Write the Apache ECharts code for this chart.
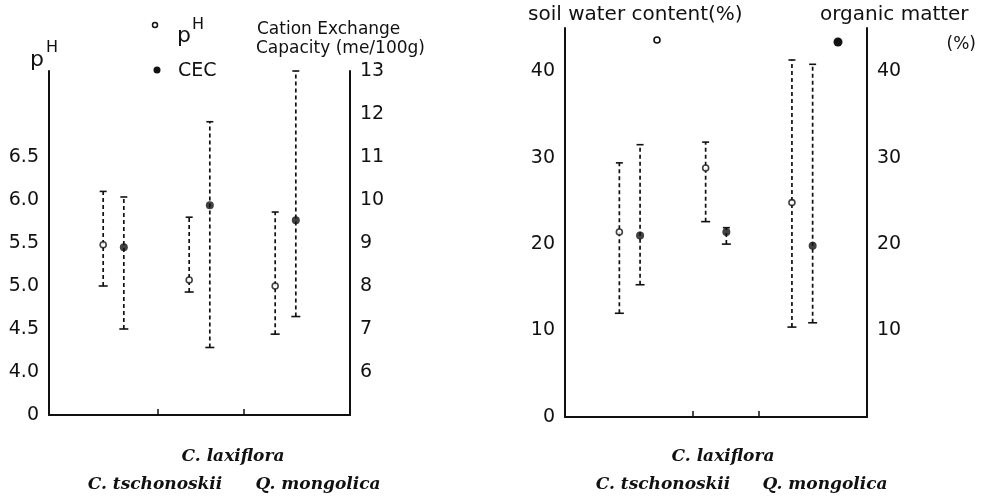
<!DOCTYPE html>
<html>
<head>
<meta charset="utf-8">
<script src="https://cdn.jsdelivr.net/npm/echarts@6/dist/echarts.min.js"></script>
<style>
html, body { margin: 0; padding: 0; background: #fff; }
#chart { width: 987px; height: 498px; }
</style>
</head>
<body>
<div id="chart"></div>
<script>
// species groups, left to right
const categories = ["C. tschonoskii", "C. laxiflora", "Q. mongolica"];

// left panel: pH (left axis) and CEC (right axis)
const phMean = [5.48, 5.07, 5.0];
const phHigh = [6.1, 5.8, 5.86];
const phLow = [5.0, 4.93, 4.44];
const cecMean = [8.9, 9.88, 9.53];
const cecHigh = [10.07, 11.82, 13.0];
const cecLow = [7.0, 6.57, 7.29];

// right panel: soil water content (left axis) and organic matter (right axis)
const waterMean = [21.4, 28.8, 24.8];
const waterHigh = [29.4, 31.8, 41.3];
const waterLow = [12.0, 22.6, 10.4];
const omMean = [21.0, 21.4, 19.8];
const omHigh = [31.5, 21.9, 40.8];
const omLow = [15.3, 20.0, 10.9];

// tick labels
const phTicks = ["0", "4.0", "4.5", "5.0", "5.5", "6.0", "6.5"];
const cecTicks = ["6", "7", "8", "9", "10", "11", "12", "13"];
const pctTicks = ["0", "10", "20", "30", "40"];

const chart = echarts.init(document.getElementById("chart"));
const tickFont = { fontFamily: "DejaVu Sans", fontSize: 19, color: "#111" };
const offset = 0.12;

function rows(mean, high, low, shift) {
	return mean.map((m, i) => [i + shift, low[i], high[i], m]);
}

function errorBars(xi, yi, data) {
	return {
		type: "custom",
		xAxisIndex: xi,
		yAxisIndex: yi,
		data: data,
		silent: true,
		renderItem: (params, api) => {
			const lo = api.coord([api.value(0), api.value(1)]);
			const hi = api.coord([api.value(0), api.value(2)]);
			const st = { stroke: "#111", lineWidth: 1.6 };
			return {
				type: "group",
				children: [
					{ type: "line", shape: { x1: lo[0], y1: lo[1], x2: hi[0], y2: hi[1] },
						style: { stroke: "#111", lineWidth: 1.7, lineDash: [4, 3] } },
					{ type: "line", shape: { x1: hi[0] - 3.5, y1: hi[1], x2: hi[0] + 3.5, y2: hi[1] }, style: st },
					{ type: "line", shape: { x1: lo[0] - 4.5, y1: lo[1], x2: lo[0] + 4.5, y2: lo[1] }, style: st }
				]
			};
		}
	};
}

function means(xi, yi, data, filled) {
	return {
		type: "scatter",
		xAxisIndex: xi,
		yAxisIndex: yi,
		z: 5,
		silent: true,
		symbol: "circle",
		symbolSize: filled ? 8 : 6,
		itemStyle: filled
			? { color: "#111" }
			: { color: "#fff", borderColor: "#111", borderWidth: 1.6 },
		data: data.map(d => [d[0], d[3]])
	};
}

function xAxis(gi, ticks) {
	return {
		type: "value",
		gridIndex: gi,
		min: -0.75,
		max: 2.75,
		axisLine: { show: true, onZero: false, lineStyle: { color: "#111", width: 2 } },
		axisTick: { show: true, inside: true, length: 6, customValues: ticks, lineStyle: { color: "#111", width: 1.5 } },
		axisLabel: { show: false },
		splitLine: { show: false }
	};
}

// map tick value -> label text
function phLabel(v) {
	if (Math.abs(v - 3.5) < 1e-6) return phTicks[0];
	const s = v.toFixed(1);
	return phTicks.indexOf(s) > 0 ? s : "";
}
function cecLabel(v) {
	const s = String(Math.round(v));
	return cecTicks.indexOf(s) >= 0 ? s : "";
}
function pctLabelLeft(v) {
	const s = String(Math.round(v));
	return pctTicks.indexOf(s) >= 0 ? s : "";
}
function pctLabelRight(v) {
	const s = String(Math.round(v));
	return s !== "0" && pctTicks.indexOf(s) >= 0 ? s : "";
}

function yAx(gi, pos, min, max, interval, fmt) {
	return {
		type: "value",
		gridIndex: gi,
		position: pos,
		min: min,
		max: max,
		interval: interval,
		axisLine: { show: true, onZero: false, lineStyle: { color: "#111", width: 2 } },
		axisTick: { show: false },
		splitLine: { show: false },
		axisLabel: Object.assign({}, tickFont, { margin: 10, formatter: fmt })
	};
}

const phData = rows(phMean, phHigh, phLow, -offset);
const cecData = rows(cecMean, cecHigh, cecLow, offset);
const waterData = rows(waterMean, waterHigh, waterLow, -offset);
const omData = rows(omMean, omHigh, omLow, offset);

const speciesFont = { fontFamily: "DejaVu Serif", fontStyle: "italic", fontWeight: "bold", fontSize: 17, fill: "#111" };
const leftFont = { fontFamily: "DejaVu Sans", fontSize: 17, fill: "#111" };
const rightFont = { fontFamily: "DejaVu Sans", fontSize: 20, fill: "#111" };

function speciesLabels(cx) {
	return [
		{ type: "text", x: cx[1], y: 457, style: Object.assign({ text: categories[1], align: "center", verticalAlign: "middle" }, speciesFont) },
		{ type: "text", x: cx[0], y: 485, style: Object.assign({ text: categories[0], align: "center", verticalAlign: "middle" }, speciesFont) },
		{ type: "text", x: cx[2], y: 485, style: Object.assign({ text: categories[2], align: "center", verticalAlign: "middle" }, speciesFont) }
	];
}

const option = {
	animation: false,
	backgroundColor: "#fff",
	grid: [
		{ left: 49, top: 71, width: 301, height: 344 },
		{ left: 565, top: 28, width: 302, height: 389 }
	],
	xAxis: [xAxis(0, [0.51, 1.52]), xAxis(1, [0.73, 1.49])],
	yAxis: [
		yAx(0, "left", 3.5, 7.5, 0.5, phLabel),
		yAx(0, "right", 5, 13, 1, cecLabel),
		yAx(1, "left", 0, 45, 5, pctLabelLeft),
		yAx(1, "right", 0, 45, 5, pctLabelRight)
	],
	series: [
		errorBars(0, 0, phData),
		means(0, 0, phData, false),
		errorBars(0, 1, cecData),
		means(0, 1, cecData, true),
		errorBars(1, 2, waterData),
		means(1, 2, waterData, false),
		errorBars(1, 3, omData),
		means(1, 3, omData, true)
	],
	graphic: [
		// left panel axis titles and legend
		{ type: "text", x: 30, y: 60, style: { text: "p", fontFamily: "DejaVu Sans", fontSize: 22, fill: "#111", verticalAlign: "middle" } },
		{ type: "text", x: 46, y: 48, style: { text: "H", fontFamily: "DejaVu Sans", fontSize: 16, fill: "#111", verticalAlign: "middle" } },
		{ type: "circle", shape: { cx: 155, cy: 25, r: 2.5 }, style: { fill: "#fff", stroke: "#111", lineWidth: 1.5 } },
		{ type: "text", x: 177, y: 36, style: { text: "p", fontFamily: "DejaVu Sans", fontSize: 22, fill: "#111", verticalAlign: "middle" } },
		{ type: "text", x: 192, y: 25, style: { text: "H", fontFamily: "DejaVu Sans", fontSize: 16, fill: "#111", verticalAlign: "middle" } },
		{ type: "circle", shape: { cx: 157, cy: 70, r: 3.5 }, style: { fill: "#111" } },
		{ type: "text", x: 178, y: 71, style: { text: "CEC", fontFamily: "DejaVu Sans", fontSize: 19, fill: "#111", verticalAlign: "middle" } },
		{ type: "text", x: 257, y: 30, style: Object.assign({ text: "Cation Exchange", verticalAlign: "middle" }, leftFont) },
		{ type: "text", x: 256, y: 49, style: Object.assign({ text: "Capacity (me/100g)", verticalAlign: "middle" }, leftFont) },
		// right panel axis titles and legend
		{ type: "text", x: 528, y: 15, style: Object.assign({ text: "soil water content(%)", verticalAlign: "middle" }, rightFont) },
		{ type: "circle", shape: { cx: 657, cy: 40, r: 3 }, style: { fill: "#fff", stroke: "#111", lineWidth: 1.6 } },
		{ type: "text", x: 820, y: 15, style: Object.assign({ text: "organic matter", verticalAlign: "middle" }, rightFont) },
		{ type: "text", x: 976, y: 45, style: Object.assign({ text: "(%)", align: "right", verticalAlign: "middle" }, leftFont) },
		{ type: "circle", shape: { cx: 838, cy: 42, r: 4.5 }, style: { fill: "#111" } }
	].concat(speciesLabels([155, 233, 318]), speciesLabels([663, 723, 825]))
};

chart.setOption(option);
</script>
</body>
</html>
